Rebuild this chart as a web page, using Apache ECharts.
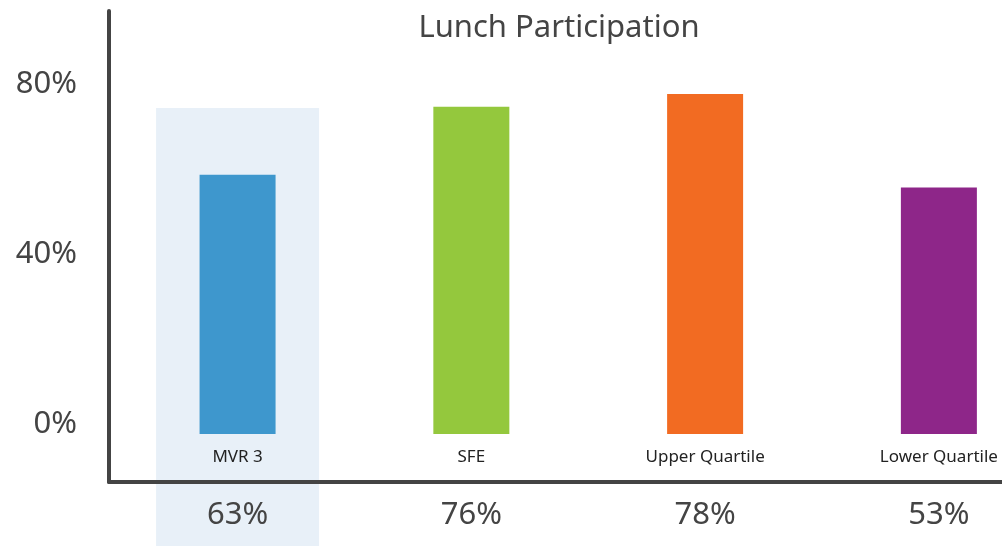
<!DOCTYPE html>
<html>
<head>
<meta charset="utf-8">
<script src="https://cdn.jsdelivr.net/npm/echarts@6/dist/echarts.min.js"></script>
<style>
  html, body { margin: 0; padding: 0; background: #fff; }
  #chart { width: 1002px; height: 546px; }
</style>
</head>
<body>
<div id="chart"></div>
<script>
// values
const categories = ["MVR 3", "SFE", "Upper Quartile", "Lower Quartile"];
const barValues = [61, 77, 80, 58];          // bar heights as drawn
const shareLabels = ["63%", "76%", "78%", "53%"];
const highlighted = [1, 0, 0, 0];            // shaded column behind MVR 3
const yTicks = [0, 40, 80];

const barColors = ["#3e97cd", "#94c83d", "#f26b22", "#8e2689"];
const ink = "#444";
const font = "Noto Sans";

const xIdx = categories.map((c, i) => i);
const xRange = { min: -0.55, max: 3.27 };

const chart = echarts.init(document.getElementById("chart"));

chart.setOption({
  backgroundColor: "#fff",
  animation: false,
  title: {
    text: "Lunch Participation",
    left: 559,
    textAlign: "center",
    top: 13,
    padding: 0,
    textStyle: { fontFamily: font, fontSize: 31, fontWeight: "normal", color: ink }
  },
  grid: [
    { left: 109, right: 0, top: 11, bottom: 64 },   // main plot
    { left: 109, right: 0, top: 108, bottom: 0 },   // highlight column
    { left: 109, right: 0, top: 11, bottom: 64 }    // share labels under axis
  ],
  xAxis: [
    {
      type: "value",
      gridIndex: 0,
      min: xRange.min,
      max: xRange.max,
      z: 3,
      axisLine: { show: true, onZero: false, lineStyle: { color: ink, width: 4 } },
      axisTick: { show: false },
      splitLine: { show: false },
      axisLabel: {
        inside: true,
        margin: 16,
        customValues: xIdx,
        formatter: v => categories[v],
        fontFamily: font,
        fontSize: 17,
        color: "#222"
      }
    },
    {
      type: "value",
      gridIndex: 1,
      min: xRange.min,
      max: xRange.max,
      show: false,
      axisLine: { onZero: false }
    },
    {
      type: "value",
      gridIndex: 2,
      min: xRange.min,
      max: xRange.max,
      z: 3,
      axisLine: { show: false, onZero: false },
      axisTick: { show: false },
      splitLine: { show: false },
      axisLabel: {
        margin: 18,
        customValues: xIdx,
        formatter: v => shareLabels[v],
        fontFamily: font,
        fontSize: 31,
        lineHeight: 30,
        color: ink
      }
    }
  ],
  yAxis: [
    {
      type: "value",
      gridIndex: 0,
      min: -11.3,
      max: 99.5,
      z: 3,
      axisLine: { show: true, onZero: false, lineStyle: { color: ink, width: 4 } },
      axisTick: { show: false },
      splitLine: { show: false },
      axisLabel: {
        customValues: yTicks,
        formatter: v => v + "%",
        margin: 32,
        verticalAlign: "bottom",
        lineHeight: 20,
        fontFamily: font,
        fontSize: 31,
        color: ink
      }
    },
    { type: "value", gridIndex: 1, min: 0, max: 1, show: false, axisLine: { onZero: false } },
    { type: "value", gridIndex: 2, min: 0, max: 1, show: false, axisLine: { onZero: false } }
  ],
  series: [
    {
      type: "bar",
      xAxisIndex: 1,
      yAxisIndex: 1,
      z: 1,
      barWidth: 163,
      silent: true,
      itemStyle: { color: "#e8f0f8" },
      data: highlighted.map((h, i) => [i, h]).filter(d => d[1])
    },
    {
      type: "bar",
      xAxisIndex: 0,
      yAxisIndex: 0,
      z: 2,
      barWidth: 76,
      data: barValues.map((v, i) => ({
        value: [i, v],
        itemStyle: { color: barColors[i] }
      }))
    }
  ]
});
</script>
</body>
</html>
